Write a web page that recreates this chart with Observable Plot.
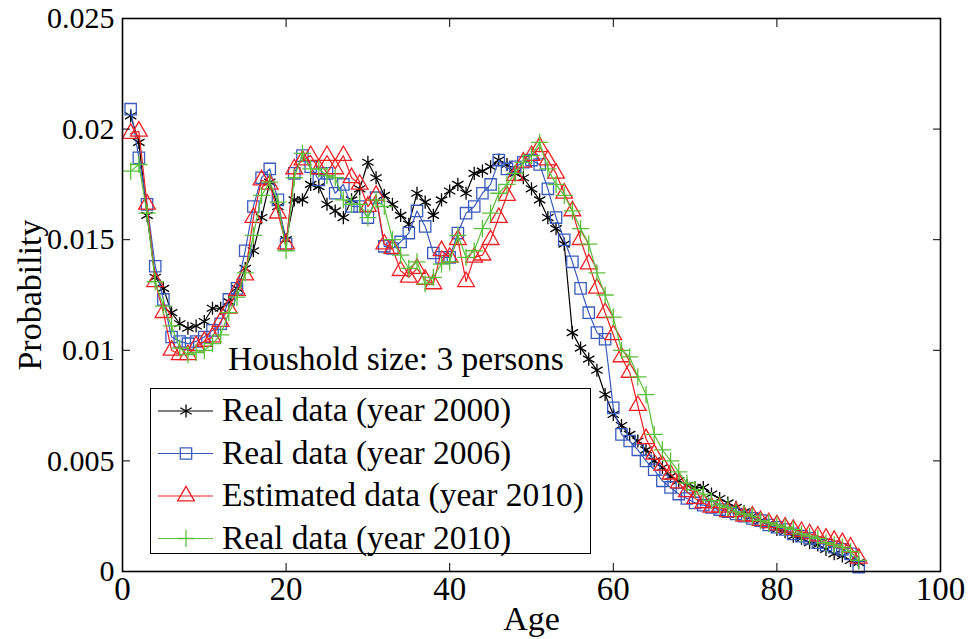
<!DOCTYPE html>
<html>
<head>
<meta charset="utf-8">
<script src="https://cdn.jsdelivr.net/npm/d3@7"></script>
<script src="https://cdn.jsdelivr.net/npm/@observablehq/plot@0.6"></script>
<style>
  html, body { margin: 0; padding: 0; background: #fff; }
  #wrap { position: relative; width: 972px; height: 639px; font-family: "Liberation Serif", "Times New Roman", serif; }
  #note { position: absolute; left: 228px; top: 342px; font-size: 33.5px; line-height: 1; white-space: nowrap; }
  #legend { position: absolute; left: 150px; top: 388px; width: 441px; height: 166px; box-sizing: border-box; border: 1.5px solid #000; background: #fff; }
</style>
</head>
<body>
<div id="wrap"></div>
<script>
const ages = d3.range(1, 91);

const real2000 = [0.0206,0.0194,0.0161,0.0133,0.0128,0.0117,0.0112,0.0110,0.0111,0.0113,
  0.0119,0.0119,0.0122,0.0128,0.0137,0.0145,0.0160,0.0176,0.0165,0.0150,
  0.0168,0.0168,0.0175,0.0174,0.0166,0.0163,0.0160,0.0168,0.0173,0.0185,
  0.0178,0.0170,0.0166,0.0161,0.0157,0.0171,0.0167,0.0161,0.0168,0.0172,
  0.0175,0.0171,0.0180,0.0181,0.0183,0.0186,0.0184,0.0180,0.0178,0.0173,
  0.0168,0.0160,0.0155,0.0148,0.0108,0.0101,0.0096,0.0091,0.0080,0.0071,
  0.0066,0.0062,0.0059,0.0055,0.0050,0.0047,0.0043,0.0041,0.0039,0.0038,
  0.0038,0.0035,0.0033,0.0031,0.0029,0.0027,0.0025,0.0023,0.0021,0.0019,
  0.0018,0.0016,0.0015,0.0013,0.0012,0.0010,0.0008,0.0007,0.0005,0.0004];

const real2006 = [0.0209,0.0187,0.0166,0.0138,0.0123,0.0106,0.0104,0.0103,0.0104,0.0106,
  0.0109,0.0112,0.0123,0.0128,0.0145,0.0165,0.0178,0.0182,0.0168,0.0148,
  0.0180,0.0188,0.0183,0.0177,0.0180,0.0171,0.0175,0.0165,0.0165,0.0160,
  0.0169,0.0147,0.0146,0.0149,0.0153,0.0163,0.0156,0.0144,0.0142,0.0142,
  0.0153,0.0162,0.0165,0.0171,0.0175,0.0186,0.0182,0.0183,0.0185,0.0186,
  0.0184,0.0173,0.0160,0.0150,0.0140,0.0128,0.0117,0.0108,0.0105,0.0074,
  0.0062,0.0059,0.0055,0.0050,0.0046,0.0041,0.0038,0.0035,0.0033,0.0031,
  0.0030,0.0029,0.0028,0.0027,0.0026,0.0025,0.0024,0.0023,0.0021,0.0020,
  0.0019,0.0017,0.0016,0.0015,0.0013,0.0012,0.0011,0.0010,0.0008,0.0002];

const est2010 = [0.0198,0.0199,0.0166,0.0131,0.0117,0.0100,0.0098,0.0098,0.0102,0.0104,
  0.0106,0.0113,0.0119,0.0127,0.0134,0.0160,0.0177,0.0175,0.0162,0.0148,
  0.0182,0.0186,0.0188,0.0182,0.0188,0.0182,0.0188,0.0178,0.0175,0.0165,
  0.0170,0.0148,0.0146,0.0136,0.0133,0.0137,0.0132,0.0130,0.0145,0.0142,
  0.0150,0.0131,0.0142,0.0143,0.0150,0.0160,0.0170,0.0179,0.0185,0.0188,
  0.0192,0.0186,0.0180,0.0171,0.0163,0.0150,0.0139,0.0128,0.0117,0.0107,
  0.0097,0.0090,0.0075,0.0060,0.0053,0.0048,0.0044,0.0040,0.0036,0.0033,
  0.0031,0.0029,0.0029,0.0027,0.0027,0.0025,0.0025,0.0023,0.0022,0.0021,
  0.0020,0.0019,0.0018,0.0017,0.0016,0.0015,0.0014,0.0013,0.0011,0.0006];

const real2010 = [0.0181,0.0184,0.0162,0.0131,0.0120,0.0111,0.0101,0.0098,0.0099,0.0100,
  0.0103,0.0107,0.0117,0.0124,0.0135,0.0152,0.0170,0.0176,0.0167,0.0145,
  0.0178,0.0189,0.0182,0.0182,0.0179,0.0178,0.0168,0.0166,0.0166,0.0160,
  0.0168,0.0165,0.0150,0.0143,0.0137,0.0140,0.0130,0.0133,0.0139,0.0140,
  0.0152,0.0142,0.0145,0.0155,0.0162,0.0171,0.0175,0.0180,0.0185,0.0188,
  0.0194,0.0182,0.0175,0.0170,0.0163,0.0155,0.0148,0.0135,0.0125,0.0115,
  0.0100,0.0097,0.0088,0.0080,0.0062,0.0055,0.0050,0.0045,0.0040,0.0037,
  0.0035,0.0032,0.0030,0.0029,0.0027,0.0026,0.0025,0.0023,0.0022,0.0021,
  0.0020,0.0019,0.0017,0.0016,0.0015,0.0013,0.0012,0.0011,0.0009,0.0005];

const seriesNames = ["Real data (year 2000)", "Real data (year 2006)", "Estimated data (year 2010)", "Real data (year 2010)"];
const seriesValues = [real2000, real2006, est2010, real2010];
const seriesColors = ["#000000", "#3a5bbd", "#ee2024", "#5cbf3c"];
const seriesSymbols = ["asterisk", "square", "triangle", "plus"];
const seriesR = [6.2, 6.4, 6.2, 5.6];

const xTicks = [0, 20, 40, 60, 80, 100];
const yTicks = [0, 0.005, 0.01, 0.015, 0.02, 0.025];
const yTickLabels = ["0", "0.005", "0.01", "0.015", "0.02", "0.025"];
const noteText = "Houshold size: 3 persons";

const rows = seriesValues.map((vals, k) => vals.map((v, i) => ({age: ages[i], p: v, k})));

const marks = [];
rows.forEach((data, k) => {
  marks.push(Plot.line(data, {x: "age", y: "p", stroke: seriesColors[k], strokeWidth: 1.2}));
  marks.push(Plot.dot(data, {x: "age", y: "p", stroke: seriesColors[k], fill: "none", symbol: seriesSymbols[k], r: seriesR[k], strokeWidth: 1.3}));
});

const chart = Plot.plot({
  width: 972,
  height: 639,
  marginLeft: 122,
  marginRight: 32,
  marginTop: 18,
  marginBottom: 68,
  style: {fontFamily: "'Liberation Serif', 'Times New Roman', serif", fontSize: "33px", color: "#000", background: "#fff", overflow: "visible"},
  x: {domain: [0, 100]},
  y: {domain: [0, 0.025]},
  marks: [
    ...marks,
    Plot.frame({stroke: "#000", strokeWidth: 1.6}),
    Plot.axisX({anchor: "bottom", ticks: xTicks, tickSize: 0, tickPadding: 5, fontSize: 33, label: null}),
    Plot.axisX({anchor: "bottom", ticks: [], fontSize: 34, label: "Age", labelAnchor: "center", labelArrow: "none", labelOffset: 58}),
    Plot.axisX({anchor: "bottom", ticks: xTicks, tickSize: -8, text: null, label: null}),
    Plot.axisX({anchor: "top", ticks: xTicks, tickSize: -8, text: null, label: null}),
    Plot.axisY({anchor: "left", ticks: yTicks, tickFormat: (d) => yTickLabels[yTicks.indexOf(d)], tickSize: 0, tickPadding: 8, fontSize: 30, label: null}),
    Plot.axisY({anchor: "left", ticks: [], fontSize: 34, label: "Probability", labelAnchor: "center", labelArrow: "none", labelOffset: 106}),
    Plot.axisY({anchor: "left", ticks: yTicks, tickSize: -8, text: null, label: null}),
    Plot.axisY({anchor: "right", ticks: yTicks, tickSize: -8, text: null, label: null})
  ]
});

const wrap = document.getElementById("wrap");
wrap.appendChild(chart);

const note = document.createElement("div");
note.id = "note";
note.textContent = noteText;
wrap.appendChild(note);

// legend
const leg = document.createElement("div");
leg.id = "legend";
const ns = "http://www.w3.org/2000/svg";
const lsvg = document.createElementNS(ns, "svg");
lsvg.setAttribute("width", 438);
lsvg.setAttribute("height", 163);
lsvg.style.position = "absolute";
lsvg.style.left = "0px";
lsvg.style.top = "0px";
lsvg.style.overflow = "visible";
const symMap = {asterisk: d3.symbolAsterisk, square: d3.symbolSquare, triangle: d3.symbolTriangle, plus: d3.symbolPlus};
seriesNames.forEach((name, k) => {
  const cy = 22 + k * 42.5;
  const line = document.createElementNS(ns, "line");
  line.setAttribute("x1", 7); line.setAttribute("x2", 62);
  line.setAttribute("y1", cy); line.setAttribute("y2", cy);
  line.setAttribute("stroke", seriesColors[k]); line.setAttribute("stroke-width", 1.2);
  lsvg.appendChild(line);
  const p = document.createElementNS(ns, "path");
  const r = seriesR[k];
  p.setAttribute("d", d3.symbol(symMap[seriesSymbols[k]], Math.PI * r * r)());
  p.setAttribute("transform", `translate(35,${cy})`);
  p.setAttribute("fill", "none");
  p.setAttribute("stroke", seriesColors[k]);
  p.setAttribute("stroke-width", 1.3);
  lsvg.appendChild(p);
  const t = document.createElementNS(ns, "text");
  t.setAttribute("x", 71); t.setAttribute("y", cy);
  t.setAttribute("dy", "0.3em");
  t.setAttribute("font-size", 33.5);
  t.setAttribute("font-family", "'Liberation Serif', 'Times New Roman', serif");
  t.textContent = name;
  lsvg.appendChild(t);
});
leg.appendChild(lsvg);
wrap.appendChild(leg);
</script>
</body>
</html>
